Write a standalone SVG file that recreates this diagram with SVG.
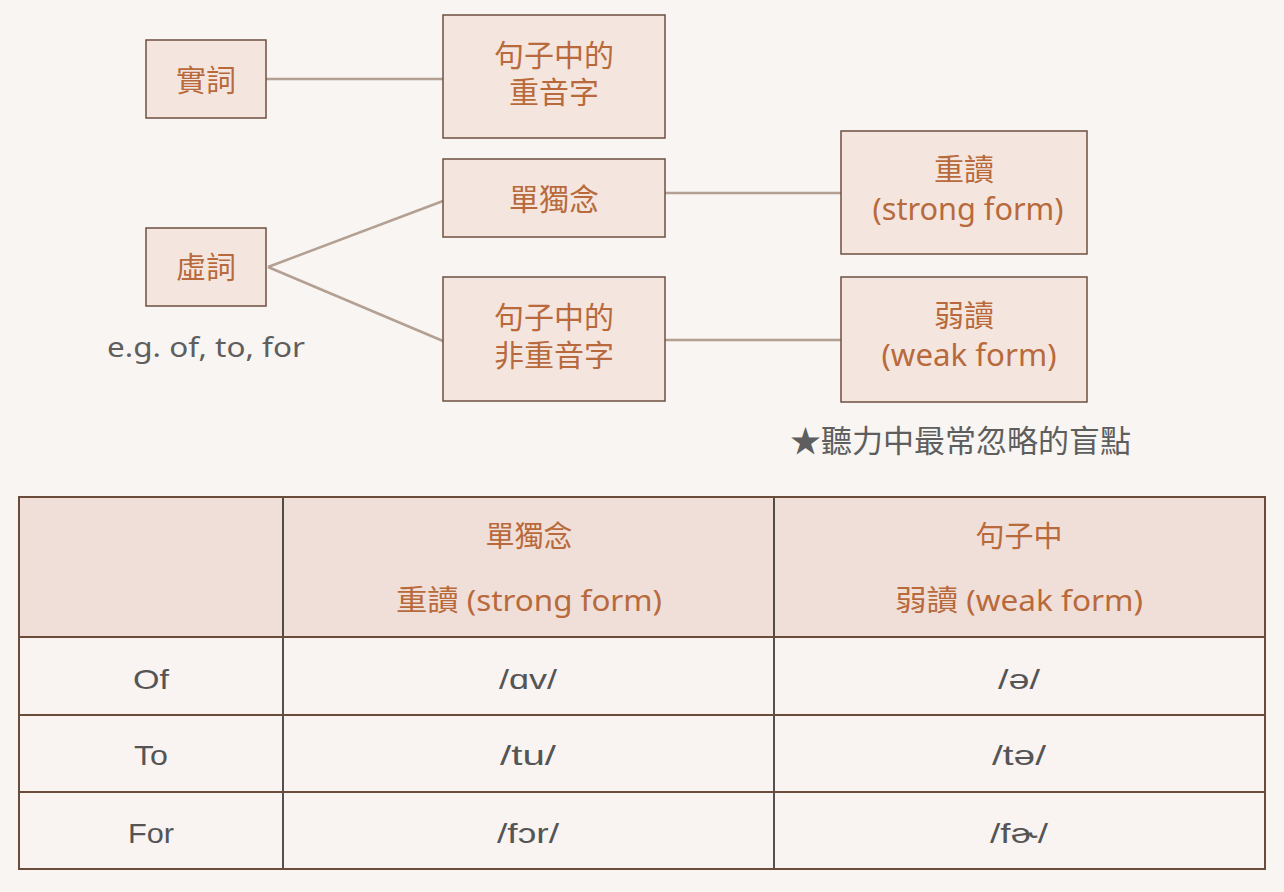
<svg xmlns="http://www.w3.org/2000/svg" width="1284" height="892" viewBox="0 0 1284 892">
<style>
.bg{fill:#f8f5f2}
.node rect{fill:#f4e6df;stroke:#6e5040;stroke-width:1.5}
.nt{font-family:"Noto Sans","Noto Sans CJK TC",sans-serif;font-size:30px;fill:#b86a3c;text-anchor:middle}
.conn line{stroke:#b3a092;stroke-width:2.5}
.note{font-family:"Noto Sans","Noto Sans CJK TC",sans-serif;fill:#5e5e5e}
.th{fill:#f0dfd8}
.tb{fill:#f9f4f1}
.grid{stroke:#6b4c3b;stroke-width:2;fill:none}
.vline{stroke:#1a1a1a;stroke-width:1.5}
.ht{font-family:"Noto Sans","Noto Sans CJK TC",sans-serif;font-size:29px;fill:#b86a3c;text-anchor:middle}
.bt{font-family:"Liberation Sans",sans-serif;font-size:28px;fill:#555;text-anchor:middle}
</style>
<rect class="bg" x="0" y="0" width="1284" height="892"/>
<g id="connectors" class="conn">
<line x1="266" y1="79" x2="443" y2="79"/>
<line x1="268" y1="267" x2="443" y2="201"/>
<line x1="268" y1="267" x2="443" y2="341"/>
<line x1="665" y1="193" x2="841" y2="193"/>
<line x1="665" y1="340" x2="841" y2="340"/>
</g>
<g id="n-shici" class="node"><rect x="146" y="40" width="120" height="78"/><text class="nt" x="206" y="91">實詞</text></g>
<g id="n-stress" class="node"><rect x="443" y="15" width="222" height="123"/><text class="nt" x="554" y="66">句子中的</text><text class="nt" x="554" y="103">重音字</text></g>
<g id="n-alone" class="node"><rect x="443" y="159" width="222" height="78"/><text class="nt" x="554" y="210">單獨念</text></g>
<g id="n-xuci" class="node"><rect x="146" y="228" width="120" height="78"/><text class="nt" x="206" y="278">虛詞</text></g>
<g id="n-unstress" class="node"><rect x="443" y="277" width="222" height="124"/><text class="nt" x="554" y="328">句子中的</text><text class="nt" x="554" y="366">非重音字</text></g>
<g id="n-strong" class="node"><rect x="841" y="131" width="246" height="123"/><text class="nt" x="964" y="180" font-size="29">重讀</text><text class="nt" x="968" y="220" font-size="27" textLength="191" lengthAdjust="spacingAndGlyphs">(strong form)</text></g>
<g id="n-weak" class="node"><rect x="841" y="277" width="246" height="125"/><text class="nt" x="964" y="326" font-size="29">弱讀</text><text class="nt" x="969" y="366" font-size="27" textLength="175" lengthAdjust="spacingAndGlyphs">(weak form)</text></g>
<text class="note" x="107" y="357" font-size="28" textLength="198" lengthAdjust="spacingAndGlyphs">e.g. of, to, for</text>
<text class="note" x="790" y="452" font-size="31" fill="#555">★聽力中最常忽略的盲點</text>
<g id="table">
<rect class="th" x="19" y="497" width="1246" height="140"/>
<rect class="tb" x="19" y="637" width="1246" height="232"/>
<line class="vline" x1="283" y1="497" x2="283" y2="869"/>
<line class="vline" x1="774" y1="497" x2="774" y2="869"/>
<line class="grid" x1="19" y1="637" x2="1265" y2="637"/>
<line class="grid" x1="19" y1="715" x2="1265" y2="715"/>
<line class="grid" x1="19" y1="792" x2="1265" y2="792"/>
<rect class="grid" x="19" y="497" width="1246" height="372"/>
<text class="ht" x="529" y="547">單獨念</text>
<text class="ht" x="529" y="611" textLength="266" lengthAdjust="spacingAndGlyphs">重讀 (strong form)</text>
<text class="ht" x="1019" y="547">句子中</text>
<text class="ht" x="1019" y="611" textLength="248" lengthAdjust="spacingAndGlyphs">弱讀 (weak form)</text>
<text class="bt" x="151" y="689" textLength="36" lengthAdjust="spacingAndGlyphs">Of</text>
<text class="bt" x="528" y="689" textLength="58" lengthAdjust="spacingAndGlyphs">/ɑv/</text>
<text class="bt" x="1019" y="689" textLength="42" lengthAdjust="spacingAndGlyphs">/ə/</text>
<text class="bt" x="151" y="765" textLength="34" lengthAdjust="spacingAndGlyphs">To</text>
<text class="bt" x="528" y="765" textLength="56" lengthAdjust="spacingAndGlyphs">/tu/</text>
<text class="bt" x="1019" y="765" textLength="54" lengthAdjust="spacingAndGlyphs">/tə/</text>
<text class="bt" x="151" y="843" textLength="46" lengthAdjust="spacingAndGlyphs">For</text>
<text class="bt" x="528" y="843" textLength="62" lengthAdjust="spacingAndGlyphs">/fɔr/</text>
<text class="bt" x="1019" y="843" textLength="58" lengthAdjust="spacingAndGlyphs">/fɚ/</text>
</g>
</svg>
